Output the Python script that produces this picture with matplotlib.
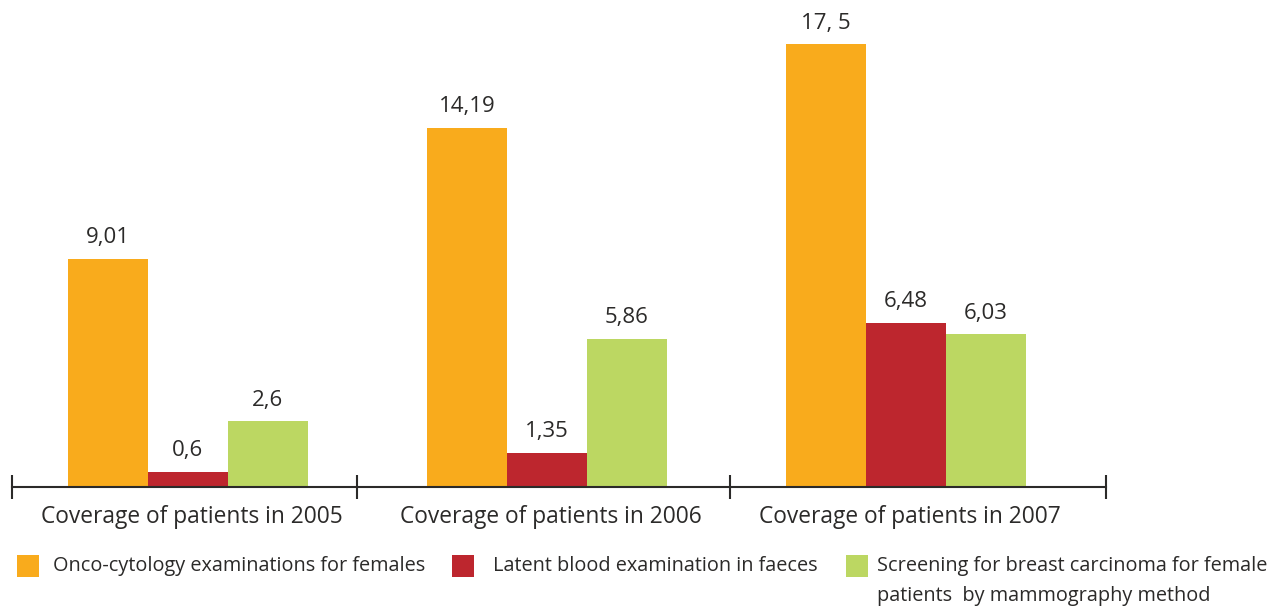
import matplotlib
matplotlib.use("Agg")
import matplotlib.pyplot as plt
from matplotlib.patches import Rectangle
import numpy as np

groups = ["Coverage of patients in 2005", "Coverage of patients in 2006", "Coverage of patients in 2007"]
series_names = [
    "Onco-cytology examinations for females",
    "Latent blood examination in faeces",
    "Screening for breast carcinoma for female\npatients  by mammography method",
]
onco = [9.01, 14.19, 17.5]
blood = [0.6, 1.35, 6.48]
mammo = [2.6, 5.86, 6.03]
onco_labels = ["9,01", "14,19", "17, 5"]
blood_labels = ["0,6", "1,35", "6,48"]
mammo_labels = ["2,6", "5,86", "6,03"]
colors = ["#F9AB1C", "#BD262E", "#BCD762"]

plt.rcParams["font.family"] = ["Open Sans", "DejaVu Sans"]
TEXT = "#2B2A29"

W, H = 1278, 607
fig = plt.figure(figsize=(W / 100, H / 100), dpi=100)
ax = fig.add_axes([12 / W, 120 / H, 1094 / W, 468 / H])

x = np.arange(len(groups))
bw = 0.223
all_vals = [onco, blood, mammo]
all_labels = [onco_labels, blood_labels, mammo_labels]
for i, (vals, labs) in enumerate(zip(all_vals, all_labels)):
    pos = x + (i - 1) * bw
    ax.bar(pos, vals, width=bw, color=colors[i], linewidth=0)
    for p, v, l in zip(pos, vals, labs):
        ax.text(p, v + 0.42, l, ha="center", va="bottom", fontsize=16, color=TEXT)

left, right = -0.49, 2.557
ax.set_xlim(left, right)
ax.set_ylim(0, 18.5)
for s in ["top", "right", "left"]:
    ax.spines[s].set_visible(False)
ax.spines["bottom"].set_color(TEXT)
ax.spines["bottom"].set_linewidth(1.5)
ax.set_yticks([])
ax.set_xticks([left, 0.47, 1.51, right])
ax.set_xticklabels([])
ax.tick_params(axis="x", direction="inout", length=17, width=1.5, color=TEXT)
for xi, g in zip(x, groups):
    ax.text(xi + 0.01, -0.7, g, ha="center", va="top", fontsize=16.4, color=TEXT)

# legend
leg_x = [17, 452, 846]
txt_x = [53, 493, 877]
for lx, tx, c, name in zip(leg_x, txt_x, colors, series_names):
    fig.patches.append(Rectangle((lx / W, (H - 577) / H), 22 / W, 22 / H,
                                 transform=fig.transFigure, color=c, linewidth=0))
    fig.text(tx / W, (H - 556) / H, name, ha="left", va="top",
             fontsize=14.3, color=TEXT, linespacing=1.7)

fig.savefig("out.png", dpi=100)
